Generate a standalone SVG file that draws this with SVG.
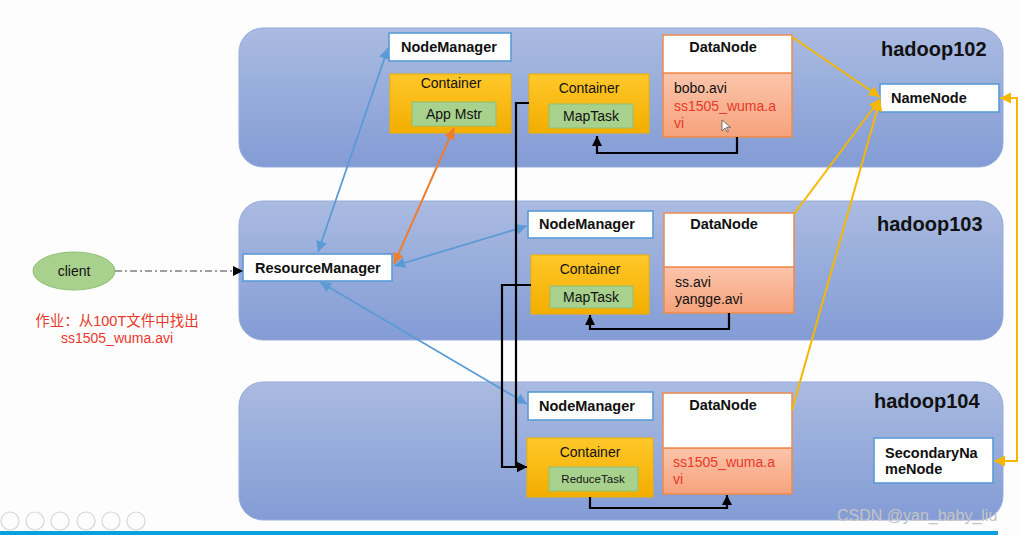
<svg xmlns="http://www.w3.org/2000/svg" width="1018" height="535" viewBox="0 0 1018 535">
<defs>
<linearGradient id="gHost" x1="0" y1="0" x2="0" y2="1"><stop offset="0" stop-color="#aabbe1"/><stop offset="1" stop-color="#839cd5"/></linearGradient>
<linearGradient id="gCont" x1="0" y1="0" x2="0" y2="1"><stop offset="0" stop-color="#ffc82a"/><stop offset="1" stop-color="#f3ad00"/></linearGradient>
<linearGradient id="gData" x1="0" y1="0" x2="0" y2="1"><stop offset="0" stop-color="#fbc5ab"/><stop offset="1" stop-color="#f6a27c"/></linearGradient>
<marker id="aBlue" viewBox="0 0 10 10" refX="10" refY="5" markerWidth="11" markerHeight="11" markerUnits="userSpaceOnUse" orient="auto-start-reverse"><path d="M0,0 L10,5 L0,10 z" fill="#5b9bd5"/></marker>
<marker id="aOrange" viewBox="0 0 10 10" refX="10" refY="5" markerWidth="11" markerHeight="11" markerUnits="userSpaceOnUse" orient="auto-start-reverse"><path d="M0,0 L10,5 L0,10 z" fill="#ed7d31"/></marker>
<marker id="aYellow" viewBox="0 0 10 10" refX="10" refY="5" markerWidth="11" markerHeight="11" markerUnits="userSpaceOnUse" orient="auto-start-reverse"><path d="M0,0 L10,5 L0,10 z" fill="#f5b700"/></marker>
<marker id="aBlack" viewBox="0 0 10 10" refX="10" refY="5" markerWidth="10" markerHeight="10" markerUnits="userSpaceOnUse" orient="auto-start-reverse"><path d="M0,0 L10,5 L0,10 z" fill="#000"/></marker>
</defs>
<style>
text{font-family:"Liberation Sans",Arial,"Noto Sans CJK SC",sans-serif;fill:#111}
.host{fill:url(#gHost);stroke:#97abdb;stroke-width:1}
.hl{font-size:20px;font-weight:bold}
.wb{fill:#fff;stroke:#5b9bd5;stroke-width:1.6}
.b{font-size:14.5px;font-weight:bold}
.cont{fill:url(#gCont);stroke:#eeb000;stroke-width:1}
.task{fill:#a9d18e;stroke:#8fc070;stroke-width:1}
.r{font-size:14px}
.dtop{fill:#fff;stroke:#ed8a4e;stroke-width:1.5}
.dbot{fill:url(#gData);stroke:#ed8a4e;stroke-width:1.5}
.red{fill:#e8382a}
.c{text-anchor:middle}
.blue{stroke:#5b9bd5;stroke-width:1.8;fill:none;marker-start:url(#aBlue);marker-end:url(#aBlue)}
.org{stroke:#ed7d31;stroke-width:2;fill:none;marker-start:url(#aOrange);marker-end:url(#aOrange)}
.yel{stroke:#f5b700;stroke-width:2;fill:none;marker-end:url(#aYellow)}
.blk{stroke:#000;stroke-width:2.2;fill:none;marker-end:url(#aBlack)}
</style>
<rect width="1018" height="535" fill="#fdfdfd"/>

<g id="hadoop102">
<rect class="host" x="239" y="28" width="764" height="139" rx="24"/>
<text class="hl" x="881" y="56">hadoop102</text>
</g>
<g id="hadoop103">
<rect class="host" x="239" y="201" width="764" height="139" rx="24"/>
<text class="hl" x="877" y="231">hadoop103</text>
</g>
<g id="hadoop104">
<rect class="host" x="239" y="382" width="764" height="138" rx="24"/>
<text class="hl" x="874" y="408">hadoop104</text>
</g>

<g id="nm102"><rect class="wb" x="389" y="33" width="122" height="28"/><text class="b" x="401" y="52">NodeManager</text></g>
<g id="container-am">
<rect class="cont" x="390" y="74" width="121" height="59"/>
<text class="r c" x="451" y="88">Container</text>
<rect class="task" x="412" y="102" width="84" height="24"/>
<text class="r c" x="454" y="119">App Mstr</text>
</g>
<g id="container-map102">
<rect class="cont" x="529" y="74" width="120" height="59"/>
<text class="r c" x="589" y="93">Container</text>
<rect class="task" x="549" y="104" width="84" height="24"/>
<text class="r c" x="591" y="121">MapTask</text>
</g>
<g id="dn102">
<rect class="dbot" x="663" y="73" width="129" height="64"/>
<rect class="dtop" x="663" y="35" width="129" height="38"/>
<text class="b c" x="723" y="52">DataNode</text>
<text class="r" x="674" y="93">bobo.avi</text>
<text class="r red" x="674" y="111">ss1505_wuma.a</text>
<text class="r red" x="674" y="128">vi</text>
<path d="M722,120 v11 l3,-3 l2,4 l1.5,-0.7 l-2,-4 h4 z" fill="#fff" stroke="#555" stroke-width="0.8"/>
</g>
<g id="namenode"><rect class="wb" x="880" y="84" width="119" height="28"/><text class="b" x="891" y="103">NameNode</text></g>

<g id="resourcemanager"><rect class="wb" x="243" y="254" width="149" height="27"/><text class="b" x="255" y="273">ResourceManager</text></g>
<g id="nm103"><rect class="wb" x="528" y="211" width="125" height="27"/><text class="b" x="539" y="229">NodeManager</text></g>
<g id="container-map103">
<rect class="cont" x="531" y="255" width="118" height="59"/>
<text class="r c" x="590" y="274">Container</text>
<rect class="task" x="550" y="286" width="83" height="22"/>
<text class="r c" x="591" y="302">MapTask</text>
</g>
<g id="dn103">
<rect class="dbot" x="664" y="267" width="130" height="46"/>
<rect class="dtop" x="664" y="213" width="130" height="54"/>
<text class="b c" x="724" y="229">DataNode</text>
<text class="r" x="675" y="287">ss.avi</text>
<text class="r" x="675" y="304">yangge.avi</text>
</g>

<g id="nm104"><rect class="wb" x="528" y="392" width="125" height="28"/><text class="b" x="539" y="411">NodeManager</text></g>
<g id="container-reduce">
<rect class="cont" x="527" y="438" width="126" height="59"/>
<text class="r c" x="590" y="457">Container</text>
<rect class="task" x="549" y="467" width="89" height="24"/>
<text class="c" x="593" y="483" style="font-size:11.5px">ReduceTask</text>
</g>
<g id="dn104">
<rect class="dbot" x="663" y="448" width="129" height="46"/>
<rect class="dtop" x="663" y="393" width="129" height="55"/>
<text class="b c" x="723" y="410">DataNode</text>
<text class="r red" x="673" y="467">ss1505_wuma.a</text>
<text class="r red" x="673" y="484">vi</text>
</g>
<g id="secondarynamenode"><rect class="wb" x="874" y="438" width="119" height="45"/><text class="b" x="885" y="458">SecondaryNa</text><text class="b" x="885" y="474">meNode</text></g>

<g id="client">
<ellipse cx="74" cy="271" rx="41" ry="19" fill="#a9d18e" stroke="#8fc070" stroke-width="1"/>
<text class="r c" x="74" y="276">client</text>
</g>
<g id="note">
<text class="c red" x="117" y="326" style="font-size:14.5px;font-family:'Liberation Sans','Noto Sans CJK SC',sans-serif">作业：从100T文件中找出</text>
<text class="c red r" x="117" y="343">ss1505_wuma.avi</text>
</g>

<g id="connectors">
<path d="M115,271 H243" stroke="#808080" stroke-width="1.5" stroke-dasharray="7 3 2 3" fill="none" marker-end="url(#aBlack)"/>
<path class="blue" d="M318,252 L388,48"/>
<path class="blue" d="M394,266 L527,226"/>
<path class="blue" d="M320,282 L527,404"/>
<path class="org" d="M394,264 L454,128"/>
<path class="blk" d="M529,103 H516 V467 H527"/>
<path class="blk" d="M531,285 H502 V467 H527"/>
<path class="blk" d="M737,137 V153 H597 V136"/>
<path class="blk" d="M729,313 V329 H590 V315"/>
<path class="blk" d="M590,497 V508 H727 V495"/>
<path class="yel" d="M792,37 L880,97"/>
<path class="yel" d="M794,214 L880,99"/>
<path class="yel" d="M792,410 L880,100"/>
<path class="yel" d="M1000,98 H1017 V461 H994" marker-start="url(#aYellow)"/>
</g>

<g id="footer">
<rect x="0" y="531" width="998" height="4" fill="#0aa0e0"/>
<g fill="none" stroke="#d6d6d6" stroke-width="1.2">
<circle cx="10" cy="521" r="9"/><circle cx="35" cy="521" r="9"/><circle cx="60" cy="521" r="9"/><circle cx="86" cy="521" r="9"/><circle cx="111" cy="521" r="9"/><circle cx="136" cy="521" r="9"/>
</g>
<text x="837" y="521" style="font-size:16px;fill:#c4c4c4">CSDN @yan_baby_liu</text>
</g>
</svg>
